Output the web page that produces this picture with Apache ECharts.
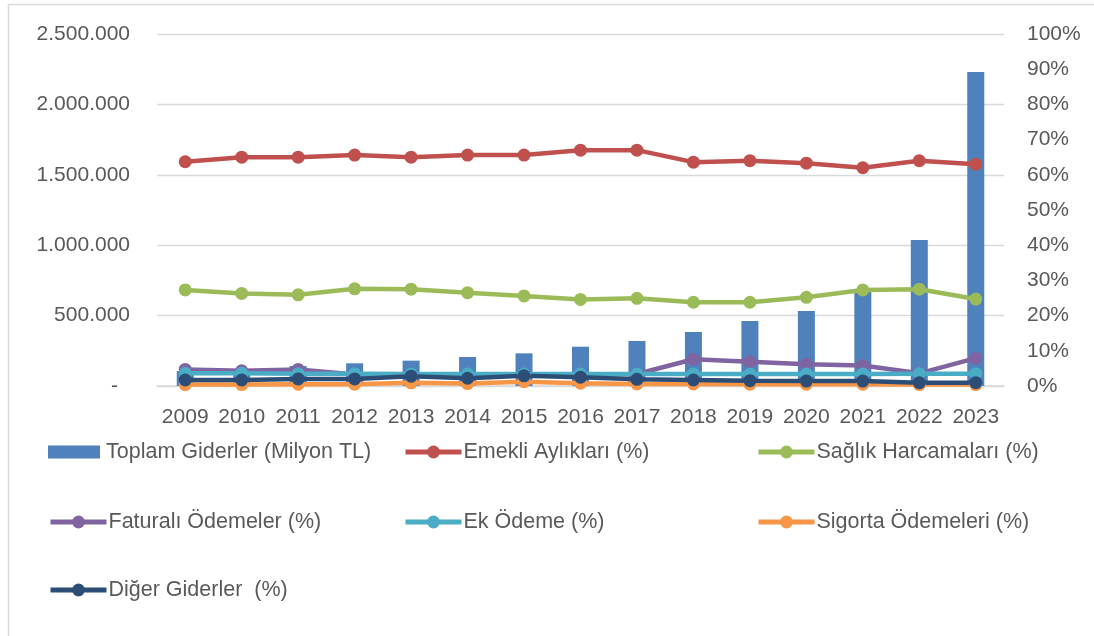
<!DOCTYPE html>
<html>
<head>
<meta charset="utf-8">
<script src="https://cdn.jsdelivr.net/npm/echarts@6/dist/echarts.min.js"></script>
<style>
  html, body { margin: 0; padding: 0; background: #fff; }
  #chart { width: 1094px; height: 636px; }
</style>
</head>
<body>
<div id="chart"></div>
<script>
// Years on the category axis
const years = ['2009', '2010', '2011', '2012', '2013', '2014', '2015', '2016',
               '2017', '2018', '2019', '2020', '2021', '2022', '2023'];

// Total expenditure, million TL (left axis)
const toplamGiderler = [106000, 118000, 142000, 161000, 180000, 206000, 232000, 279000,
                        320000, 384000, 462000, 533000, 680000, 1037000, 2230000];

// Expenditure shares, % (right axis)
const emekliAyliklari = [63.7, 65.0, 65.0, 65.6, 65.0, 65.6, 65.6, 67.0,
                         67.0, 63.6, 64.0, 63.3, 62.0, 64.0, 63.0];
const saglikHarcamalari = [27.3, 26.3, 25.9, 27.6, 27.5, 26.5, 25.6, 24.6,
                           24.9, 23.8, 23.8, 25.2, 27.3, 27.5, 24.7];
const faturaliOdemeler = [4.7, 4.3, 4.7, 3.3, 3.3, 3.3, 3.3, 3.3,
                          3.4, 7.6, 6.9, 6.2, 5.8, 3.6, 7.9];
const ekOdeme = [3.6, 3.6, 3.5, 3.5, 3.4, 3.4, 3.4, 3.4,
                 3.4, 3.4, 3.4, 3.4, 3.4, 3.5, 3.5];
const sigortaOdemeleri = [0.4, 0.4, 0.5, 0.5, 0.9, 0.7, 1.2, 0.8,
                          0.6, 0.6, 0.5, 0.5, 0.5, 0.4, 0.4];
const digerGiderler = [1.7, 1.7, 2.0, 2.0, 2.8, 2.2, 2.9, 2.5,
                       1.9, 1.7, 1.5, 1.4, 1.4, 0.95, 0.95];

// Tick settings
const leftMax = 2500000, leftStep = 500000;
const rightMax = 100, rightStep = 10;

const FONT = '"Liberation Sans", Arial, sans-serif';
const TEXT = '#595959';
const GRID = '#d9d9d9';

const lineSeries = [
  { name: 'Emekli Aylıkları (%)', data: emekliAyliklari, color: '#c0504d' },
  { name: 'Sağlık Harcamaları (%)', data: saglikHarcamalari, color: '#9bbb59' },
  { name: 'Faturalı Ödemeler (%)', data: faturaliOdemeler, color: '#8064a2' },
  { name: 'Ek Ödeme (%)', data: ekOdeme, color: '#4bacc6' },
  { name: 'Sigorta Ödemeleri (%)', data: sigortaOdemeleri, color: '#f79646' },
  { name: 'Diğer Giderler  (%)', data: digerGiderler, color: '#2c4d75' }
];

function dotted(v) {
  return String(v).replace(/\B(?=(\d{3})+(?!\d))/g, '.');
}

// Legend laid out in three fixed columns
const legendSlots = [
  { name: 'Toplam Giderler (Milyon TL)', left: 48, top: 441, bar: true },
  { name: 'Emekli Aylıkları (%)', left: 403, top: 441 },
  { name: 'Sağlık Harcamaları (%)', left: 756, top: 441 },
  { name: 'Faturalı Ödemeler (%)', left: 48, top: 511 },
  { name: 'Ek Ödeme (%)', left: 403, top: 511 },
  { name: 'Sigorta Ödemeleri (%)', left: 756, top: 511 },
  { name: 'Diğer Giderler  (%)', left: 48, top: 579 }
];

const legends = legendSlots.map(s => ({
  data: [s.bar ? { name: s.name, icon: 'rect' } : s.name],
  left: s.left,
  top: s.top,
  padding: 0,
  itemWidth: s.bar ? 52 : 56,
  itemHeight: s.bar ? 13 : 16,
  itemGap: 0,
  selectedMode: false,
  lineStyle: { width: 5 },
  textStyle: { fontFamily: FONT, fontSize: 21.5, color: TEXT, padding: [0, 0, 0, s.bar ? 1 : -3] }
}));

const chart = echarts.init(document.getElementById('chart'));
chart.setOption({
  animation: false,
  backgroundColor: '#ffffff',
  graphic: [{
    type: 'rect',
    shape: { x: 8.5, y: 4.5, width: 1200, height: 1000 },
    style: { fill: 'none', stroke: GRID, lineWidth: 1.5 },
    silent: true
  }],
  legend: legends,
  grid: { left: 157, right: 90, top: 34, bottom: 250, containLabel: false },
  xAxis: {
    type: 'category',
    data: years,
    axisLine: { lineStyle: { color: GRID, width: 1.5 } },
    axisTick: { show: false },
    axisLabel: { fontFamily: FONT, fontSize: 21, color: TEXT, margin: 21, interval: 0, hideOverlap: false }
  },
  yAxis: [{
    type: 'value',
    min: 0, max: leftMax, interval: leftStep,
    axisLine: { show: false },
    axisTick: { show: false },
    splitLine: { lineStyle: { color: GRID, width: 1.3 } },
    axisLabel: {
      fontFamily: FONT, fontSize: 21, color: TEXT, margin: 27,
      formatter: v => v === 0 ? '{d|-}' : dotted(v),
      rich: { d: { fontFamily: FONT, fontSize: 21, color: TEXT, padding: [0, 12, 0, 0] } }
    }
  }, {
    type: 'value',
    min: 0, max: rightMax, interval: rightStep,
    axisLine: { show: false },
    axisTick: { show: false },
    splitLine: { show: false },
    axisLabel: { fontFamily: FONT, fontSize: 21, color: TEXT, margin: 23, formatter: '{value}%' }
  }],
  series: [{
    name: 'Toplam Giderler (Milyon TL)',
    type: 'bar',
    yAxisIndex: 0,
    data: toplamGiderler,
    barWidth: 17,
    itemStyle: { color: '#4f81bd' }
  }].concat(lineSeries.map(s => ({
    name: s.name,
    type: 'line',
    yAxisIndex: 1,
    data: s.data,
    symbol: 'circle',
    symbolSize: 13,
    color: s.color,
    lineStyle: { width: 4.5, color: s.color },
    itemStyle: { color: s.color }
  })))
});
</script>
</body>
</html>
